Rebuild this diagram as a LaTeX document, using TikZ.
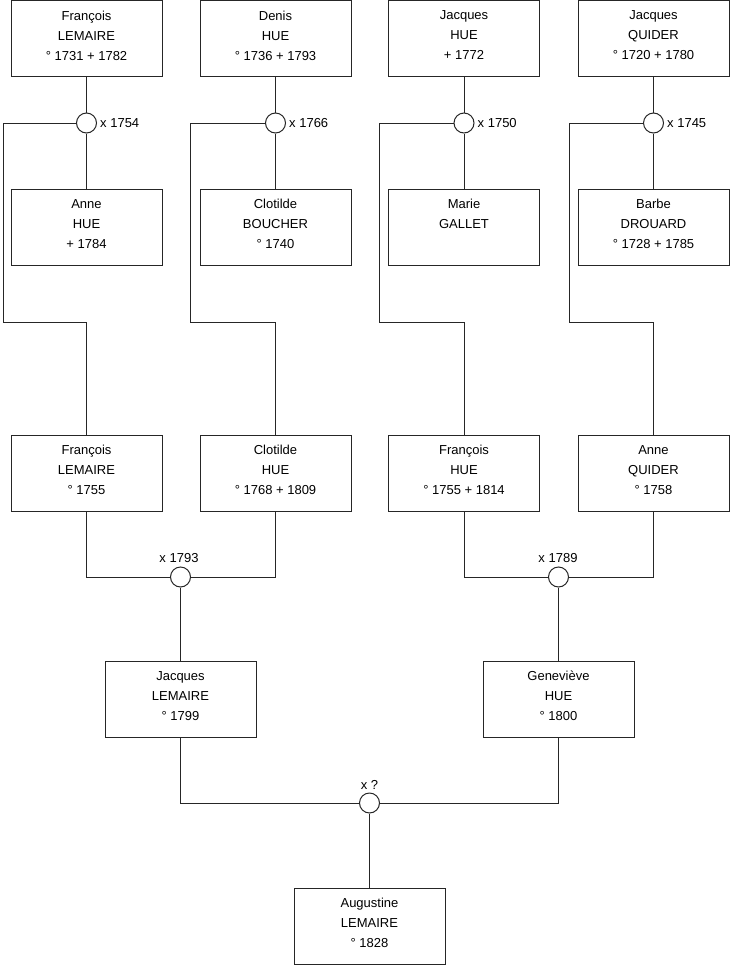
\documentclass[tikz,border=0pt]{standalone}
\usepackage{fontspec}
\setmainfont{Liberation Sans}
\newcommand\person[6]{%
  \node[pbox] (#1) at (#2,#3) {};
  \node[ptext] (#1-t) at ([yshift=-10.7pt]#1.north) {#4\\#5\\#6};
}
\begin{document}
\begin{tikzpicture}[x=1pt,y=-1pt,
  pbox/.style={draw=black!85, line width=1pt, minimum width=151pt, minimum height=76pt, inner sep=0pt, fill=white},
  ptext/.style={align=center, inner sep=0pt, font=\fontsize{13}{20}\selectfont, anchor=north, text=black},
  ring/.style={circle, draw=black!85, line width=1pt, minimum size=20pt, inner sep=0pt, fill=white},
  mlab/.style={inner sep=0pt, font=\fontsize{13}{16}\selectfont, text=black},
  link/.style={line width=1pt, draw=black!85}]
\fill[white] (0,0) rectangle (740,975);
\useasboundingbox (0,0) rectangle (740,975);

% row 1
\person{a1}{86.5}{38.5}{François}{LEMAIRE}{° 1731 + 1782}
\person{a2}{275.5}{38.5}{Denis}{HUE}{° 1736 + 1793}
\person{a3}{464}{38.5}{Jacques}{HUE}{+ 1772}
\person{a4}{653.5}{38.5}{Jacques}{QUIDER}{° 1720 + 1780}
% row 2
\person{b1}{86.5}{227}{Anne}{HUE}{+ 1784}
\person{b2}{275.5}{227}{Clotilde}{BOUCHER}{° 1740}
\person{b3}{464}{227}{Marie}{GALLET}{\mbox{}}
\person{b4}{653.5}{227}{Barbe}{DROUARD}{° 1728 + 1785}
% row 3
\person{c1}{86.5}{473}{François}{LEMAIRE}{° 1755}
\person{c2}{275.5}{473}{Clotilde}{HUE}{° 1768 + 1809}
\person{c3}{464}{473}{François}{HUE}{° 1755 + 1814}
\person{c4}{653.5}{473}{Anne}{QUIDER}{° 1758}
% row 4
\person{d1}{180.5}{699}{Jacques}{LEMAIRE}{° 1799}
\person{d2}{558.5}{699}{Geneviève}{HUE}{° 1800}
% row 5
\person{e1}{369.5}{926}{Augustine}{LEMAIRE}{° 1828}

% marriage rings
\node[ring] (m1) at (86.5,123) {};
\node[ring] (m2) at (275.5,123) {};
\node[ring] (m3) at (464,123) {};
\node[ring] (m4) at (653.5,123) {};
\node[ring] (m5) at (180.5,577) {};
\node[ring] (m6) at (558.5,577) {};
\node[ring] (m7) at (369.5,803) {};

% elbow coordinates
\coordinate (k1) at (3,322);
\coordinate (k2) at (190,322);
\coordinate (k3) at (379,322);
\coordinate (k4) at (569,322);

% connectors, top generation
\draw[link] (a1.south) -- (m1.north); \draw[link] (m1.south) -- (b1.north);
\draw[link] (a2.south) -- (m2.north); \draw[link] (m2.south) -- (b2.north);
\draw[link] (a3.south) -- (m3.north); \draw[link] (m3.south) -- (b3.north);
\draw[link] (a4.south) -- (m4.north); \draw[link] (m4.south) -- (b4.north);
\draw[link] (m1.west) -| (k1) -| (c1.north);
\draw[link] (m2.west) -| (k2) -| (c2.north);
\draw[link] (m3.west) -| (k3) -| (c3.north);
\draw[link] (m4.west) -| (k4) -| (c4.north);

% middle generation
\draw[link] (c1.south) |- (m5.west);
\draw[link] (c2.south) |- (m5.east);
\draw[link] (m5.south) -- (d1.north);
\draw[link] (c3.south) |- (m6.west);
\draw[link] (c4.south) |- (m6.east);
\draw[link] (m6.south) -- (d2.north);

% bottom generation
\draw[link] (d1.south) |- (m7.west);
\draw[link] (d2.south) |- (m7.east);
\draw[link] (m7.south) -- (e1.north);

% marriage labels
\node[mlab, anchor=west] (l1) at ([xshift=3pt]m1.east) {x 1754};
\node[mlab, anchor=west] (l2) at ([xshift=3pt]m2.east) {x 1766};
\node[mlab, anchor=west] (l3) at ([xshift=3pt]m3.east) {x 1750};
\node[mlab, anchor=west] (l4) at ([xshift=3pt]m4.east) {x 1745};
\node[mlab, anchor=base] (l5) at ([xshift=-1.5pt,yshift=4pt]m5.north) {x 1793};
\node[mlab, anchor=base] (l6) at ([xshift=-0.5pt,yshift=4pt]m6.north) {x 1789};
\node[mlab, anchor=base] (l7) at ([yshift=3pt]m7.north) {x ?};
\end{tikzpicture}
\end{document}
